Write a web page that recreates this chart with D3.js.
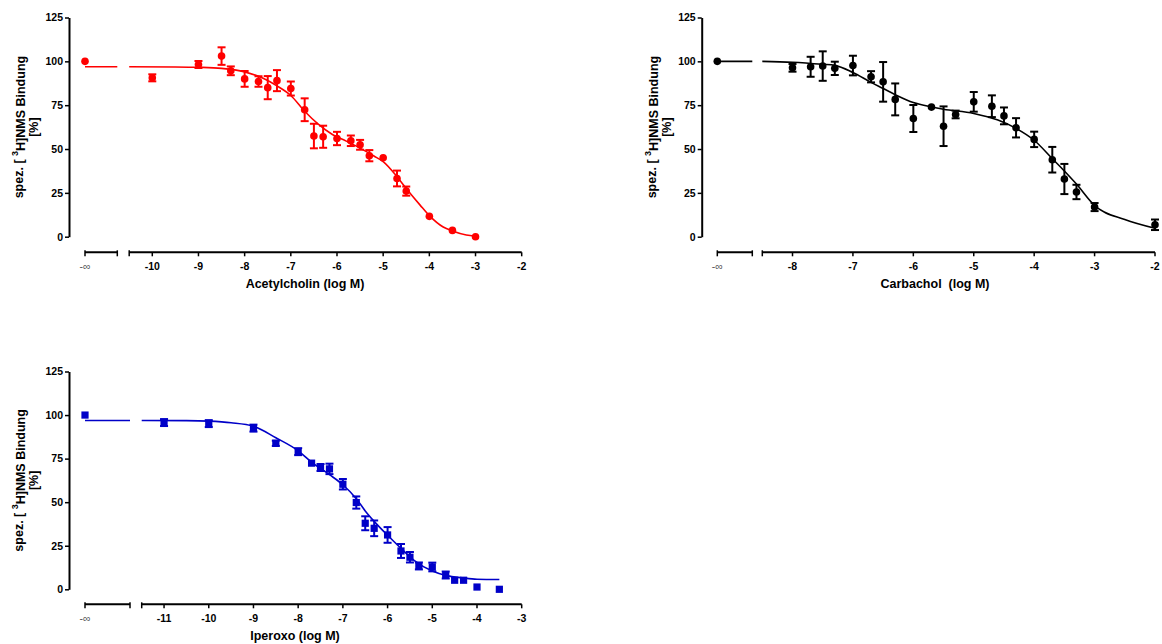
<!DOCTYPE html>
<html>
<head>
<meta charset="utf-8">
<script src="https://cdn.jsdelivr.net/npm/d3@7"></script>
<style>
body { margin: 0; background: #fff; }
text { font-family: "Liberation Sans", Arial, sans-serif; font-weight: bold; fill: #000; }
</style>
</head>
<body>
<div id="chart"></div>
<script>
// Acetylcholin
var acLog  = [-10, -9, -8.5, -8.3, -8, -7.7, -7.5, -7.3, -7, -6.7, -6.5, -6.3, -6, -5.7, -5.5, -5.3, -5, -4.7, -4.5, -4, -3.5, -3];
var acMean = [90.6, 98.2, 103, 94.6, 90, 88.5, 85, 89, 84.5, 72.4, 57.4, 57, 56, 54.7, 52.4, 46.2, 45, 33.2, 26, 11.6, 3.6, 0];
var acSem  = [2, 2, 5, 2.5, 4.5, 3, 6.6, 6, 4, 6.5, 7, 6.3, 3.8, 3, 2.8, 3.2, 0, 4.5, 2.6, 0, 0, 0];
var acInf = 100;
var acCurveLog = [-10.5, -9.5, -9, -8.5, -8, -7.6, -7.3, -7, -6.7, -6.4, -6.1, -5.8, -5.5, -5.2, -5, -4.7, -4.5, -4.2, -4, -3.7, -3.5, -3.2, -3];
var acCurveVal = [96.9, 96.8, 96.6, 96, 94, 90.3, 86, 80.5, 71.5, 64, 58.3, 54.5, 50.5, 46, 42.8, 34.2, 27.5, 18, 12, 5.5, 3.3, 1, 0.3];
var acTicks = [-10, -9, -8, -7, -6, -5, -4, -3, -2];

// Carbachol
var cbLog  = [-8, -7.7, -7.5, -7.3, -7, -6.7, -6.5, -6.3, -6, -5.7, -5.5, -5.3, -5, -4.7, -4.5, -4.3, -4, -3.7, -3.5, -3.3, -3, -2];
var cbMean = [96.3, 96.9, 97.3, 96, 97.6, 91.2, 88.3, 78.3, 67.4, 73.9, 63, 69.7, 76.9, 74.4, 68.9, 62.1, 55.5, 43.9, 32.9, 25.5, 16.9, 6.8];
var cbSem  = [2.2, 5.7, 8.4, 3.8, 5.6, 3.2, 11.3, 9.1, 7.7, 0, 11.3, 2.2, 5.6, 6.2, 4.8, 5.5, 4.4, 7.3, 8.6, 4.1, 2.3, 3];
var cbInf = 100;
var cbCurveLog = [-8.5, -8, -7.5, -7.3, -7, -6.7, -6.5, -6.3, -6, -5.7, -5.5, -5, -4.6, -4.3, -4, -3.7, -3.5, -3.3, -3, -2.5, -2];
var cbCurveVal = [100, 99.5, 98.3, 97.7, 93.6, 88, 84.5, 81, 76.5, 74, 72.7, 70.3, 66.5, 61.8, 55, 44.5, 37.5, 30, 17.8, 9.8, 4.8];
var cbTicks = [-8, -7, -6, -5, -4, -3, -2];

// Iperoxo
var ipLog  = [-11, -10, -9, -8.5, -8, -7.7, -7.5, -7.3, -7, -6.7, -6.5, -6.3, -6, -5.7, -5.5, -5.3, -5, -4.7, -4.5, -4.3, -4, -3.5];
var ipMean = [95.7, 95.1, 92.5, 83.8, 79, 72.4, 69.9, 69.1, 60.3, 49.8, 37.9, 35, 31.2, 22, 18.4, 13.4, 12.8, 8.2, 5.2, 5.2, 1.3, 0];
var ipSem  = [2, 2, 2, 1.5, 2, 0, 2, 3, 3, 3.5, 4, 4.5, 4.5, 4, 3, 2, 2.5, 2, 0, 0, 0, 0];
var ipInf = 100;
var ipCurveLog = [-11.5, -10.5, -10, -9.5, -9, -8.5, -8, -7.7, -7.3, -7, -6.7, -6.5, -6.3, -6, -5.7, -5.4, -5, -4.7, -4.3, -4, -3.5];
var ipCurveVal = [96.9, 96.8, 96.5, 95.6, 93.6, 87, 79.5, 73, 65.8, 60, 52, 45, 39, 31, 23.5, 16.5, 10.5, 8, 6.5, 5.8, 5.6];
var ipTicks = [-11, -10, -9, -8, -7, -6, -5, -4, -3];

var yTicks = [0, 25, 50, 75, 100, 125];

var svg = d3.select("#chart").append("svg")
  .attr("width", 1162)
  .attr("height", 644);

var panels = [
  { title: "Acetylcholin (log M)", color: "#ff0000", shape: "circle",
    log: acLog, mean: acMean, sem: acSem, inf: acInf, cLog: acCurveLog, cVal: acCurveVal, ticks: acTicks,
    axisX: 69, infX: 85, breakX: 117.3, x0: 129.2, x1: 521.7, yTop: 17.5, yBot: 236.7, xAxisY: 252.3, titleX: 305 },
  { title: "Carbachol  (log M)", color: "#000000", shape: "circle",
    log: cbLog, mean: cbMean, sem: cbSem, inf: cbInf, cLog: cbCurveLog, cVal: cbCurveVal, ticks: cbTicks,
    axisX: 701.7, infX: 717.3, breakX: 752.3, x0: 762.3, x1: 1155, yTop: 17.5, yBot: 236.7, xAxisY: 252.3, titleX: 935 },
  { title: "Iperoxo (log M)", color: "#0000c8", shape: "square",
    log: ipLog, mean: ipMean, sem: ipSem, inf: ipInf, cLog: ipCurveLog, cVal: ipCurveVal, ticks: ipTicks,
    axisX: 69, infX: 85, breakX: 130, x0: 141.7, x1: 521.7, yTop: 371.5, yBot: 589.3, xAxisY: 604.3, titleX: 295 }
];

function drawPanel(p) {
  var g = svg.append("g");

  var x = d3.scaleLinear()
    .domain([p.cLog[0], p.ticks[p.ticks.length - 1]])
    .range([p.x0, p.x1]);
  var y = d3.scaleLinear()
    .domain([0, 125])
    .range([p.yBot, p.yTop]);

  // y axis
  var yAxis = d3.axisLeft(y)
    .tickValues(yTicks)
    .tickSize(4)
    .tickSizeOuter(0)
    .tickPadding(2);
  var ya = g.append("g")
    .attr("transform", "translate(" + p.axisX + ",0)")
    .call(yAxis);
  ya.select(".domain").attr("stroke-width", 2);
  ya.selectAll(".tick line").attr("stroke-width", 1.5);
  ya.selectAll(".tick text")
    .attr("font-size", "10.5px")
    .attr("font-family", "'Liberation Sans', Arial, sans-serif")
    .attr("font-weight", "bold");

  // broken x axis: -inf piece and log piece
  var xa = g.append("g").attr("stroke", "#000").attr("fill", "none");
  xa.append("line")
    .attr("x1", p.infX).attr("x2", p.breakX)
    .attr("y1", p.xAxisY).attr("y2", p.xAxisY)
    .attr("stroke-width", 2);
  xa.append("line")
    .attr("x1", p.x0).attr("x2", p.x1)
    .attr("y1", p.xAxisY).attr("y2", p.xAxisY)
    .attr("stroke-width", 2);
  [p.infX, p.breakX, p.x0].forEach(function(cx) {
    xa.append("line")
      .attr("x1", cx).attr("x2", cx)
      .attr("y1", p.xAxisY - 2).attr("y2", p.xAxisY + 4)
      .attr("stroke-width", 1.5);
  });
  xa.selectAll(".xt")
    .data(p.ticks)
    .enter().append("line")
    .attr("class", "xt")
    .attr("x1", function(d) { return x(d); })
    .attr("x2", function(d) { return x(d); })
    .attr("y1", p.xAxisY)
    .attr("y2", p.xAxisY + 4)
    .attr("stroke-width", 1.5);

  g.selectAll(".xl")
    .data(p.ticks)
    .enter().append("text")
    .attr("class", "xl")
    .attr("x", function(d) { return x(d); })
    .attr("y", p.xAxisY + 14.5)
    .attr("dy", "0.35em")
    .attr("text-anchor", "middle")
    .attr("font-size", "10.5px")
    .text(function(d) { return d; });

  g.append("text")
    .attr("x", p.infX)
    .attr("y", p.xAxisY + 14.5)
    .attr("dy", "0.35em")
    .attr("text-anchor", "middle")
    .attr("font-size", "10.5px")
    .style("font-weight", "normal")
    .style("fill", "#555")
    .text("-\u221e");

  g.append("text")
    .attr("x", p.titleX)
    .attr("y", p.xAxisY + 31)
    .attr("dy", "0.35em")
    .attr("text-anchor", "middle")
    .attr("font-size", "12.5px")
    .style("white-space", "pre")
    .text(p.title);

  // y label, two lines
  var cy = (p.yTop + p.yBot) / 2;
  var yl = g.append("text")
    .attr("transform", "translate(" + (p.axisX - 50) + "," + cy + ") rotate(-90)")
    .attr("text-anchor", "middle")
    .attr("dy", "0.35em")
    .attr("font-size", "12.5px")
    .style("white-space", "pre");
  yl.append("tspan").text("spez. [ ");
  yl.append("tspan").attr("font-size", "9px").attr("dy", "-0.6em").text("3");
  yl.append("tspan").attr("dy", "0.6em").text("H]NMS Bindung");
  g.append("text")
    .attr("transform", "translate(" + (p.axisX - 35) + "," + cy + ") rotate(-90)")
    .attr("text-anchor", "middle")
    .attr("dy", "0.35em")
    .attr("font-size", "12.5px")
    .text("[%]");

  // fitted curve
  var line = d3.line()
    .x(function(d, i) { return x(p.cLog[i]); })
    .y(function(d) { return y(d); })
    .curve(d3.curveMonotoneX);
  g.append("path")
    .datum(p.cVal)
    .attr("d", line)
    .attr("fill", "none")
    .attr("stroke", p.color)
    .attr("stroke-width", 1.6);
  g.append("line")
    .attr("x1", p.infX).attr("x2", p.breakX)
    .attr("y1", y(p.cVal[0])).attr("y2", y(p.cVal[0]))
    .attr("stroke", p.color)
    .attr("stroke-width", 1.6);

  // error bars
  var pts = p.log.map(function(l, i) { return { l: l, m: p.mean[i], s: p.sem[i] }; });
  var eb = g.append("g").attr("stroke", p.color).attr("stroke-width", 2);
  pts.filter(function(d) { return d.s > 0; }).forEach(function(d) {
    var cx = x(d.l);
    eb.append("line").attr("x1", cx).attr("x2", cx).attr("y1", y(d.m - d.s)).attr("y2", y(d.m + d.s));
    eb.append("line").attr("x1", cx - 4).attr("x2", cx + 4).attr("y1", y(d.m - d.s)).attr("y2", y(d.m - d.s));
    eb.append("line").attr("x1", cx - 4).attr("x2", cx + 4).attr("y1", y(d.m + d.s)).attr("y2", y(d.m + d.s));
  });

  // markers
  var all = [{ px: p.infX, m: p.inf }].concat(pts.map(function(d) { return { px: x(d.l), m: d.m }; }));
  if (p.shape === "circle") {
    g.selectAll(".pt")
      .data(all)
      .enter().append("circle")
      .attr("class", "pt")
      .attr("cx", function(d) { return d.px; })
      .attr("cy", function(d) { return y(d.m); })
      .attr("r", 3.8)
      .attr("fill", p.color);
  } else {
    g.selectAll(".pt")
      .data(all)
      .enter().append("rect")
      .attr("class", "pt")
      .attr("x", function(d) { return d.px - 3.6; })
      .attr("y", function(d) { return y(d.m) - 3.6; })
      .attr("width", 7.2)
      .attr("height", 7.2)
      .attr("fill", p.color);
  }
}

panels.forEach(drawPanel);
</script>
</body>
</html>
